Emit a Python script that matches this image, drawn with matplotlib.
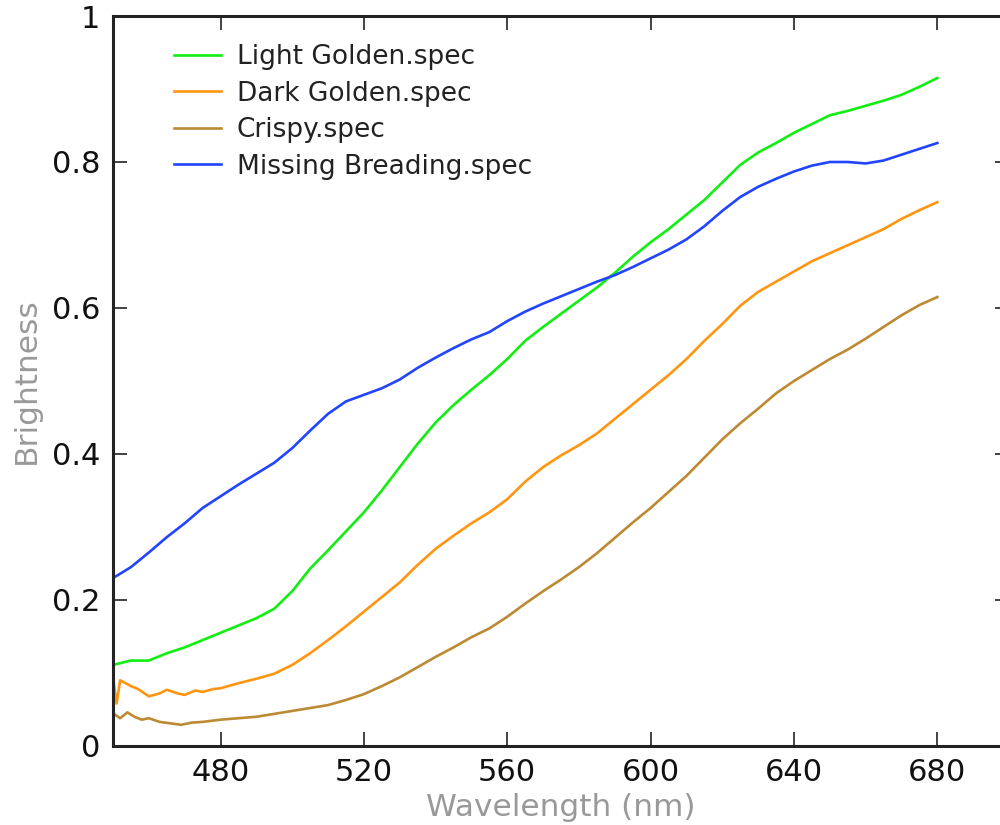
import matplotlib
matplotlib.use("Agg")
import matplotlib.pyplot as plt

# Wavelength grids (nm) and brightness values
wl_light = [450, 455, 460, 465, 470, 475, 480, 485, 490, 495, 500, 505, 510, 515, 520, 525, 530, 535,
            540, 545, 550, 555, 560, 565, 570, 575, 580, 585, 590, 595, 600, 605, 610, 615, 620, 625,
            630, 635, 640, 645, 650, 655, 660, 665, 670, 675, 680]
light_golden = [0.111, 0.117, 0.117, 0.127, 0.135, 0.145, 0.155, 0.165, 0.175, 0.188, 0.212, 0.243,
                0.268, 0.294, 0.320, 0.350, 0.382, 0.414, 0.443, 0.467, 0.488, 0.508, 0.530, 0.555,
                0.574, 0.592, 0.610, 0.628, 0.648, 0.670, 0.690, 0.708, 0.728, 0.748, 0.772, 0.796,
                0.813, 0.826, 0.840, 0.852, 0.864, 0.870, 0.877, 0.884, 0.892, 0.903, 0.915]

wl_dark = [450, 451, 452, 455, 457, 460, 463, 465, 468, 470, 473, 475, 478, 480, 485, 490, 495, 500,
           505, 510, 515, 520, 525, 530, 535, 540, 545, 550, 555, 560, 565, 570, 575, 580, 585, 590,
           595, 600, 605, 610, 615, 620, 625, 630, 635, 640, 645, 650, 655, 660, 665, 670, 675, 680]
dark_golden = [0.095, 0.058, 0.090, 0.082, 0.078, 0.068, 0.072, 0.077, 0.072, 0.070, 0.076, 0.074,
               0.078, 0.079, 0.086, 0.092, 0.099, 0.111, 0.127, 0.145, 0.164, 0.184, 0.204, 0.224,
               0.248, 0.270, 0.288, 0.305, 0.320, 0.338, 0.362, 0.382, 0.398, 0.412, 0.428, 0.448,
               0.468, 0.488, 0.508, 0.530, 0.555, 0.578, 0.603, 0.622, 0.636, 0.650, 0.664, 0.675,
               0.686, 0.697, 0.708, 0.722, 0.734, 0.745]

wl_crispy = [450, 452, 454, 456, 458, 460, 463, 466, 469, 472, 475, 480, 485, 490, 495, 500, 505, 510,
             515, 520, 525, 530, 535, 540, 545, 550, 555, 560, 565, 570, 575, 580, 585, 590, 595, 600,
             605, 610, 615, 620, 625, 630, 635, 640, 645, 650, 655, 660, 665, 670, 675, 680]
crispy = [0.045, 0.038, 0.046, 0.040, 0.036, 0.038, 0.033, 0.031, 0.029, 0.032, 0.033, 0.036, 0.038,
          0.040, 0.044, 0.048, 0.052, 0.056, 0.063, 0.071, 0.082, 0.094, 0.108, 0.122, 0.135, 0.149,
          0.161, 0.177, 0.195, 0.212, 0.228, 0.245, 0.264, 0.285, 0.306, 0.326, 0.348, 0.370, 0.395,
          0.420, 0.442, 0.462, 0.483, 0.500, 0.515, 0.530, 0.543, 0.558, 0.574, 0.590, 0.604, 0.615]

wl_missing = [450, 455, 460, 465, 470, 475, 480, 485, 490, 495, 500, 505, 510, 515, 520, 525, 530, 535,
              540, 545, 550, 555, 560, 565, 570, 575, 580, 585, 590, 595, 600, 605, 610, 615, 620, 625,
              630, 635, 640, 645, 650, 655, 660, 665, 670, 675, 680]
missing_breading = [0.230, 0.245, 0.265, 0.286, 0.305, 0.326, 0.342, 0.358, 0.373, 0.388, 0.408, 0.432,
                    0.455, 0.472, 0.481, 0.490, 0.502, 0.518, 0.532, 0.545, 0.557, 0.567, 0.582, 0.595,
                    0.606, 0.616, 0.626, 0.636, 0.645, 0.656, 0.668, 0.680, 0.694, 0.712, 0.733, 0.752,
                    0.766, 0.777, 0.787, 0.795, 0.800, 0.800, 0.798, 0.802, 0.810, 0.818, 0.826]

series_labels = ["Light Golden.spec", "Dark Golden.spec", "Crispy.spec", "Missing Breading.spec"]
series_colors = ["#11ee11", "#ff9511", "#bb8a33", "#2244ff"]

x_ticks = [480, 520, 560, 600, 640, 680]
y_ticks = [0, 0.2, 0.4, 0.6, 0.8, 1.0]
y_tick_labels = ["0", "0.2", "0.4", "0.6", "0.8", "1"]

plt.rcParams['font.family'] = ['DejaVu Sans']

fig = plt.figure(figsize=(10, 8.25), dpi=100)
ax = fig.add_axes([0.113, 0.0958, 0.896, 0.8848])

data = [(wl_light, light_golden), (wl_dark, dark_golden), (wl_crispy, crispy), (wl_missing, missing_breading)]
for (xs, ys), lab, col in zip(data, series_labels, series_colors):
    ax.plot(xs, ys, color=col, lw=1.9, label=lab)

ax.set_xlim(450, 700)
ax.set_ylim(0, 1)
ax.set_xticks(x_ticks)
ax.set_yticks(y_ticks)
ax.set_yticklabels(y_tick_labels)
ax.tick_params(direction='in', length=10, width=1.2, labelsize=22, pad=9,
               top=True, right=True, colors='#222222', labelcolor='#111111')
for s in ax.spines.values():
    s.set_linewidth(2.2)
    s.set_color('#222222')

ax.set_xlabel("Wavelength (nm)", fontsize=22.5, color='#999999', labelpad=4)
ax.set_ylabel("Brightness", fontsize=22.5, color='#999999', labelpad=8)

leg = ax.legend(loc='upper left', frameon=False, fontsize=19, handlelength=1.8,
                handletextpad=0.6, labelspacing=0.4, borderaxespad=0.3,
                bbox_to_anchor=(0.047, 0.987))
for t in leg.get_texts():
    t.set_color('#222222')

fig.savefig("out.png", dpi=100)
